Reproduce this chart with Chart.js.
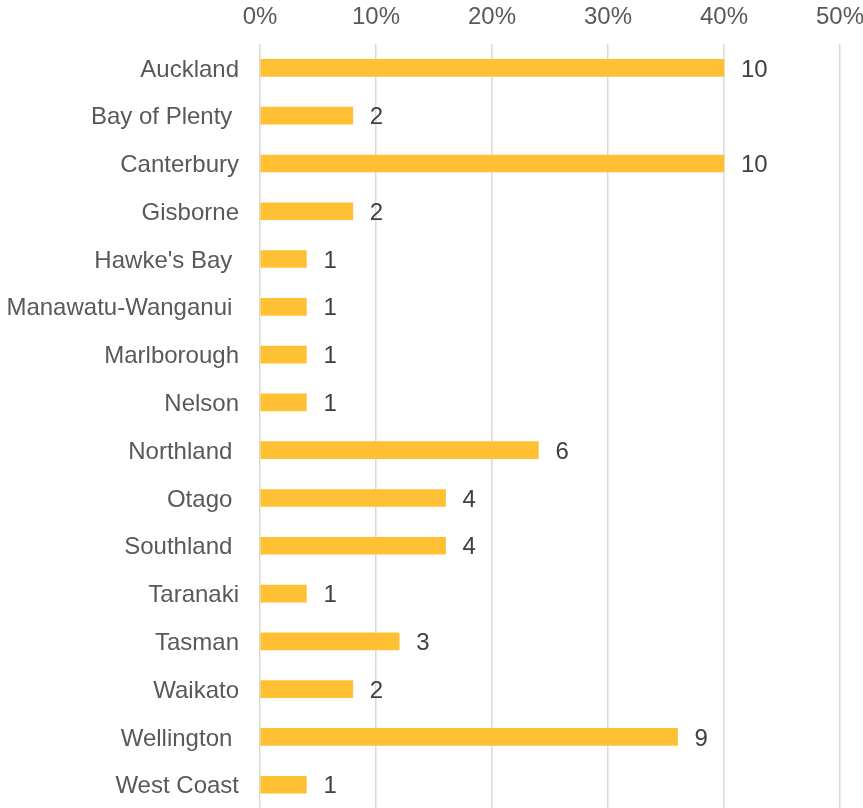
<!DOCTYPE html>
<html>
<head>
<meta charset="utf-8">
<script src="https://cdn.jsdelivr.net/npm/chart.js@4/dist/chart.umd.min.js"></script>
<style>
  html, body { margin: 0; padding: 0; background: #fff; overflow: hidden; }
  #wrap { width: 876px; height: 844px; }
</style>
</head>
<body>
<div id="wrap"><canvas id="chart"></canvas></div>
<script>
// Regions (some labels carry a trailing space, as in the source sheet)
const regions = ['Auckland', 'Bay of Plenty ', 'Canterbury', 'Gisborne', "Hawke's Bay ",
    'Manawatu-Wanganui ', 'Marlborough', 'Nelson', 'Northland ', 'Otago ', 'Southland ',
    'Taranaki', 'Tasman', 'Waikato', 'Wellington ', 'West Coast'];
// share of total (%)
const shares = [40, 8, 40, 8, 4, 4, 4, 4, 24, 16, 16, 4, 12, 8, 36, 4];
// counts shown beside each bar
const counts = [10, 2, 10, 2, 1, 1, 1, 1, 6, 4, 4, 1, 3, 2, 9, 1];
const xTicks = [0, 10, 20, 30, 40, 50];

const FONT = 'Liberation Sans, Arial, sans-serif';

// draws the count next to the end of each bar
const countLabels = {
    id: 'countLabels',
    afterDatasetsDraw(chart) {
        const ctx = chart.ctx;
        const meta = chart.getDatasetMeta(0);
        ctx.save();
        ctx.font = '24px ' + FONT;
        ctx.fillStyle = '#404040';
        ctx.textAlign = 'left';
        ctx.textBaseline = 'middle';
        meta.data.forEach(function(bar, i) {
            ctx.fillText(String(counts[i]), bar.x + 17, bar.y + 2);
        });
        ctx.restore();
    }
};

new Chart(document.getElementById('chart').getContext('2d'), {
    type: 'bar',
    data: {
        labels: regions,
        datasets: [{
            data: shares,
            backgroundColor: '#FFC133',
            barThickness: 17
        }]
    },
    options: {
        indexAxis: 'y',
        responsive: true,
        maintainAspectRatio: false,
        animation: false,
        plugins: { legend: { display: false }, tooltip: { enabled: false } },
        layout: { padding: 0 },
        scales: {
            x: {
                position: 'top',
                min: 0,
                max: 50,
                afterBuildTicks: function(scale) { scale.ticks = xTicks.map(v => ({ value: v })); },
                afterFit: function(scale) { scale.height = 44; },
                grid: { color: '#d9d9d9', lineWidth: 1.5, drawTicks: false },
                border: { display: false },
                ticks: {
                    padding: 12,
                    color: '#595959',
                    font: { family: FONT, size: 24 },
                    callback: v => v + '%'
                }
            },
            y: {
                afterFit: function(scale) { scale.width = 260; },
                grid: { display: false, drawTicks: false },
                border: { display: false },
                ticks: {
                    padding: 21,
                    labelOffset: 2,
                    color: '#595959',
                    font: { family: FONT, size: 24 }
                }
            }
        }
    },
    plugins: [countLabels]
});
</script>
</body>
</html>
